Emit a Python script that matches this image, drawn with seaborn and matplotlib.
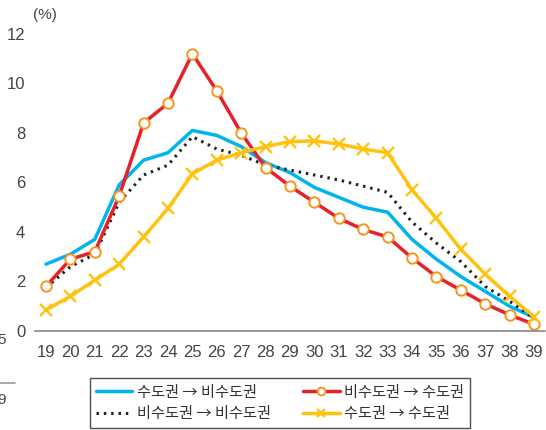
import matplotlib
matplotlib.use('Agg')
import matplotlib.pyplot as plt
import seaborn as sns

# ------ Data ------
ages = list(range(19, 40))
s_to_ns = [2.7, 3.1, 3.7, 5.9, 6.9, 7.2, 8.1, 7.9, 7.45, 6.8, 6.4, 5.8, 5.4, 5.0, 4.8,
           3.7, 2.9, 2.2, 1.6, 1.0, 0.55]
ns_to_s = [1.8, 2.9, 3.2, 5.45, 8.4, 9.2, 11.2, 9.7, 8.0, 6.6, 5.85, 5.2, 4.55, 4.1, 3.8,
           2.95, 2.2, 1.65, 1.1, 0.65, 0.27]
ns_to_ns = [1.75, 2.6, 3.1, 5.2, 6.3, 6.7, 7.85, 7.35, 7.1, 6.7, 6.5, 6.3, 6.1, 5.85, 5.6,
            4.4, 3.55, 2.8, 1.8, 1.2, 0.52]
s_to_s = [0.85, 1.4, 2.05, 2.7, 3.8, 4.95, 6.35, 6.9, 7.2, 7.45, 7.65, 7.68, 7.55, 7.35, 7.2,
          5.7, 4.55, 3.3, 2.3, 1.4, 0.58]
labels = ['수도권 → 비수도권', '비수도권 → 비수도권', '비수도권 → 수도권', '수도권 → 수도권']
yticks = [0, 2, 4, 6, 8, 10, 12]

sns.set_style('white')
plt.rcParams['font.family'] = ['Liberation Sans Narrow', 'Liberation Sans', 'DejaVu Sans']

fig = plt.figure(figsize=(5.46, 4.30), dpi=100)
ax = fig.add_axes([35 / 546, 99 / 430, 510 / 546, 307 / 430])

blue = '#00b4ee'
red = '#e8202a'
orange = '#f7941d'
yellow = '#ffc20e'

sns.lineplot(x=ages, y=s_to_ns, ax=ax, color=blue, linewidth=2.5, label=labels[0])
sns.lineplot(x=ages, y=ns_to_ns, ax=ax, color='#222222', linewidth=2.2,
             linestyle=(0, (0.8, 1.6)), label=labels[1])
sns.lineplot(x=ages, y=ns_to_s, ax=ax, color=red, linewidth=2.5, marker='o',
             markersize=7.5, markerfacecolor='white', markeredgecolor=orange,
             markeredgewidth=1.4, label=labels[2])
sns.lineplot(x=ages, y=s_to_s, ax=ax, color=yellow, linewidth=2.5, marker='x',
             markersize=8.5, markeredgecolor=yellow, markeredgewidth=1.7, label=labels[3])

ax.set_xlim(18.55, 39.45)
ax.set_ylim(0, 12.4)
ax.set_xticks(ages)
ax.set_yticks(yticks)
ax.tick_params(axis='both', length=0, labelsize=12, colors='#444444')
ax.tick_params(axis='x', pad=10)
ax.tick_params(axis='y', pad=7)
for side in ['top', 'right', 'left']:
    ax.spines[side].set_visible(False)
ax.spines['bottom'].set_color('#888888')
ax.spines['bottom'].set_linewidth(1.2)
ax.set_xlabel('')
ax.set_ylabel('')

fig.text(33 / 546, 1 - 15 / 430, '(%)', fontsize=11, color='#444444', va='center', ha='left')

# cropped remnants on left edge (cut off in the reference as well)
fig.text(-3 / 546, 1 - 340 / 430, '5', fontsize=11, color='#444444', va='center', ha='left')
fig.text(-3 / 546, 1 - 400 / 430, '9', fontsize=11, color='#444444', va='center', ha='left')
fig.add_artist(plt.Line2D([0, 15 / 546], [1 - 383 / 430, 1 - 383 / 430], color='#999999',
                          linewidth=1.2, transform=fig.transFigure))

ax.get_legend().remove()
handles, lbls = ax.get_legend_handles_labels()
leg = fig.legend(handles, lbls, ncol=2, loc='center', bbox_to_anchor=(280 / 546, 27 / 430),
                 frameon=True, fancybox=False, handlelength=2.4, markerscale=0.75,
                 columnspacing=2.1, labelspacing=0.3, borderpad=0.4, handletextpad=0.3,
                 prop={'family': ['Noto Sans CJK KR', 'DejaVu Sans'], 'size': 11})
leg.get_frame().set_edgecolor('#222222')
leg.get_frame().set_linewidth(1.0)
for t in leg.get_texts():
    t.set_color('#333333')

fig.savefig('out.png', dpi=100)
